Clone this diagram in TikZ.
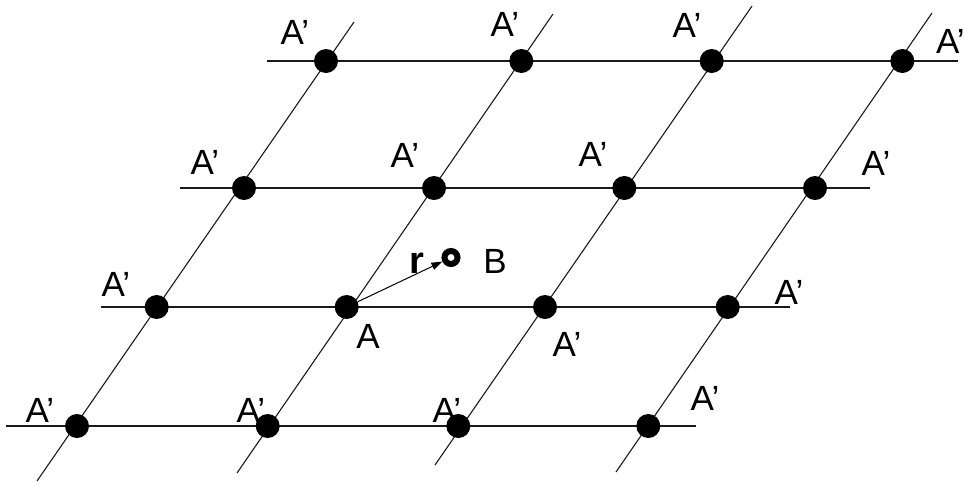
\documentclass[tikz,border=0pt]{standalone}
\usepackage{fontspec}
\setmainfont{Liberation Sans}
\usepackage{xcolor}
\definecolor{cLine}{HTML}{1A1A1A}
\definecolor{cDot}{HTML}{000000}
\usepackage{tikz}
\usetikzlibrary{arrows.meta}
\tikzset{
  node-dot/.style={circle,fill=cDot,inner sep=0pt,minimum size=24pt},
  node-site/.style={circle,draw=cDot,line width=6pt,fill=white,
    inner sep=0pt,minimum size=13pt},
  node-label/.style={inner sep=0pt,font=\fontsize{35}{40}\selectfont},
  grid-line/.style={line width=1.1pt,draw=cLine},
  arrow/.style={-{Triangle[length=11pt,width=7.5pt]},line width=1pt,draw=cDot},
}

\begin{document}
\begin{tikzpicture}[x=1pt,y=-1pt]
  \useasboundingbox (0,0) rectangle (964,483);
  \clip (0,0) rectangle (964,483);
  % ends of the lattice lines
  \coordinate (h1-l) at (6,426);    \coordinate (h1-r) at (696,426);
  \coordinate (h2-l) at (101,307);  \coordinate (h2-r) at (790,307);
  \coordinate (h3-l) at (180,188);  \coordinate (h3-r) at (870,188);
  \coordinate (h4-l) at (267,61);   \coordinate (h4-r) at (958,61);
  \coordinate (s1-b) at (37,481);   \coordinate (s1-t) at (354,22);
  \coordinate (s2-b) at (237,473);  \coordinate (s2-t) at (553,14);
  \coordinate (s3-b) at (435,465);  \coordinate (s3-t) at (752,6);
  \coordinate (s4-b) at (616,472);  \coordinate (s4-t) at (932,13);
  \draw[grid-line] (h1-l) -- (h1-r);
  \draw[grid-line] (h2-l) -- (h2-r);
  \draw[grid-line] (h3-l) -- (h3-r);
  \draw[grid-line] (h4-l) -- (h4-r);
  \draw[grid-line] (s1-b) -- (s1-t);
  \draw[grid-line] (s2-b) -- (s2-t);
  \draw[grid-line] (s3-b) -- (s3-t);
  \draw[grid-line] (s4-b) -- (s4-t);
  % lattice sites
  \node[node-dot] (a11) at (77,426) {};
  \node[node-dot] (a12) at (267.7,426) {};
  \node[node-dot] (a13) at (458.3,426) {};
  \node[node-dot] (a14) at (648.3,426) {};
  \node[node-dot] (a21) at (156.7,307) {};
  \node[node-dot] (a22) at (346.7,307) {};
  \node[node-dot] (a23) at (545,307) {};
  \node[node-dot] (a24) at (727.7,307) {};
  \node[node-dot] (a31) at (244,188) {};
  \node[node-dot] (a32) at (434,188) {};
  \node[node-dot] (a33) at (624.3,188) {};
  \node[node-dot] (a34) at (815,188) {};
  \node[node-dot] (a41) at (326,61) {};
  \node[node-dot] (a42) at (521.3,61) {};
  \node[node-dot] (a43) at (711.7,61) {};
  \node[node-dot] (a44) at (902.3,61) {};
  % labels
  \node[node-label] (l11) at (40,410) {A’};
  \node[node-label] (l12) at (251,410) {A’};
  \node[node-label] (l13) at (447,410) {A’};
  \node[node-label] (l14) at (705,398) {A’};
  \node[node-label] (l21) at (116,284) {A’};
  \node[node-label] (l22) at (368,336) {A};
  \node[node-label] (l23) at (567,344) {A’};
  \node[node-label] (l24) at (789,292) {A’};
  \node[node-label] (l31) at (205,162) {A’};
  \node[node-label] (l32) at (405,155) {A’};
  \node[node-label] (l33) at (593,154) {A’};
  \node[node-label] (l34) at (876,163) {A’};
  \node[node-label] (l41) at (295,32) {A’};
  \node[node-label] (l42) at (505,24) {A’};
  \node[node-label] (l43) at (687,25) {A’};
  \node[node-label,anchor=west] (l44) at (936,41) {A’};
  % displaced site B
  \node[node-site] (b) at (451,257.5) {};
  \node[node-label] (lb) at (495,261.5) {B};
  \node[node-label,font=\fontsize{38}{40}\selectfont\bfseries] (lr) at (417,263) {r};
  \draw[arrow] (a22) -- (b);
\end{tikzpicture}
\end{document}
